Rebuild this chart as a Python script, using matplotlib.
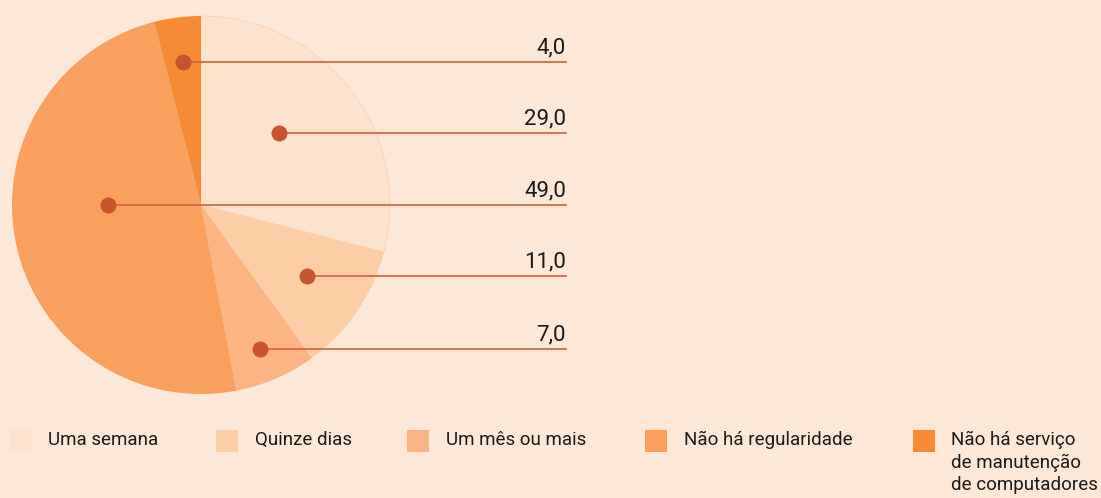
import matplotlib
matplotlib.use("Agg")
import matplotlib.pyplot as plt
from matplotlib.patches import Rectangle
from matplotlib import font_manager as fm

names = {f.name for f in fm.fontManager.ttflist}
FONT = ['Liberation Sans Narrow', 'DejaVu Sans'] if 'Liberation Sans Narrow' in names else ['Roboto', 'DejaVu Sans']

categories = ["Uma semana", "Quinze dias", "Um mês ou mais", "Não há regularidade",
              "Não há serviço\nde manutenção\nde computadores"]
values = [29.0, 11.0, 7.0, 49.0, 4.0]
colors = ["#FDE3CD", "#FDCDA5", "#FBB482", "#F9A05E", "#F68A35"]
value_labels = ["4,0", "29,0", "49,0", "11,0", "7,0"]
label_order = [4, 0, 3, 1, 2]  # top-to-bottom order of callouts

BG = "#FDE8D7"
W, H = 1101, 498
fig = plt.figure(figsize=(W / 100, H / 100), dpi=100, facecolor=BG)
ax = fig.add_axes([0, 0, 1, 1])
ax.set_facecolor(BG)

cx, cy, R = 201, H - 205, 189
wedges, _ = ax.pie(values, colors=colors, startangle=90, counterclock=False,
                   center=(cx, cy), radius=R, frame=True,
                   wedgeprops=dict(linewidth=0.6, edgecolor="#FBD3B3"))
for w in wedges[1:]:
    w.set_edgecolor("none")
ax.set_xlim(0, W)
ax.set_ylim(0, H)
ax.axis("off")

# callouts
line_y = [62, 133, 205, 276, 349]
dot_x = [183, 279, 108, 307, 260]
x_end = 566
for k, idx in enumerate(label_order):
    y = H - line_y[k]
    ax.plot([dot_x[k], x_end], [y, y], color="#D0603A", lw=1.2, zorder=3)
    ax.plot(dot_x[k], y, "o", ms=11.5, color="#C8532F", mec="none", zorder=4)
    ax.text(x_end, y + 4, value_labels[k], ha="right", va="bottom",
            fontsize=16, family=FONT, color="#1a1a1a")

# legend
sq_x = [10, 216, 407, 645, 913]
txt_x = [48, 255, 446, 684, 951]
for i, cat in enumerate(categories):
    ax.add_patch(Rectangle((sq_x[i], H - 452), 22, 22, color=colors[i], lw=0))
    ax.text(txt_x[i], H - 431, cat, ha="left", va="top", fontsize=13.5,
            family=FONT, color="#1a1a1a", linespacing=1.3)

fig.savefig("out.png", dpi=100, facecolor=BG)
